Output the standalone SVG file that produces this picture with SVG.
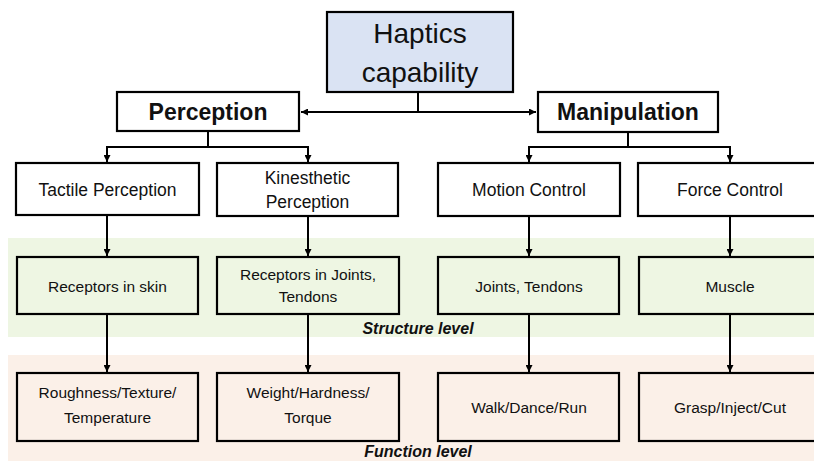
<svg xmlns="http://www.w3.org/2000/svg" width="814" height="461" viewBox="0 0 814 461">
<style>
text{font-family:"Liberation Sans",Arial,sans-serif;fill:#111;text-anchor:middle}
.box{fill:#fff;stroke:#000;stroke-width:2.2}
.g{fill:#EEF6E3;stroke:#000;stroke-width:2.2}
.p{fill:#FBF0E8;stroke:#000;stroke-width:2.2}
.t1{font-size:17.5px}
.t2{font-size:15.5px}
.hd{font-size:23px;font-weight:bold}
.lv{font-size:16px;font-weight:bold;font-style:italic}
.c{fill:none;stroke:#000;stroke-width:2}
</style>
<defs>
<marker id="ar" viewBox="0 0 8 8" refX="8" refY="4" markerWidth="7" markerHeight="7" markerUnits="userSpaceOnUse" orient="auto">
<path d="M0,0 L8,4 L0,8 z" fill="#000"/>
</marker>
</defs>
<g id="bands">
<rect x="8" y="238" width="806" height="99" fill="#EEF6E3"/>
<rect x="8" y="355" width="806" height="106" fill="#FBF0E8"/>
<text class="lv" x="418" y="334">Structure level</text>
<text class="lv" x="418" y="457">Function level</text>
</g>
<g id="connectors">
<path class="c" d="M418 92 V112 H301" marker-end="url(#ar)"/>
<path class="c" d="M418 112 H536" marker-end="url(#ar)"/>
<path class="c" d="M208 131 V147 H107 V162" marker-end="url(#ar)"/>
<path class="c" d="M208 147 H308 V162" marker-end="url(#ar)"/>
<path class="c" d="M628 132 V147 H529 V162" marker-end="url(#ar)"/>
<path class="c" d="M628 147 H730 V162" marker-end="url(#ar)"/>
<path class="c" d="M107 215 V256" marker-end="url(#ar)"/>
<path class="c" d="M308 216 V256" marker-end="url(#ar)"/>
<path class="c" d="M529 216 V256" marker-end="url(#ar)"/>
<path class="c" d="M730 216 V256" marker-end="url(#ar)"/>
<path class="c" d="M107 314 V372" marker-end="url(#ar)"/>
<path class="c" d="M308 314 V372" marker-end="url(#ar)"/>
<path class="c" d="M529 314 V372" marker-end="url(#ar)"/>
<path class="c" d="M730 314 V372" marker-end="url(#ar)"/>
</g>
<g id="haptics">
<rect x="327" y="12" width="186" height="80" fill="#DAE3F3" stroke="#000" stroke-width="2.2"/>
<text x="420" y="43" font-size="28">Haptics</text>
<text x="420" y="82" font-size="28">capability</text>
</g>
<g id="perception">
<rect class="box" x="117" y="92" width="182" height="39"/>
<text class="hd" x="208" y="120">Perception</text>
</g>
<g id="manipulation">
<rect class="box" x="538" y="92" width="180" height="40"/>
<text class="hd" x="628" y="120">Manipulation</text>
</g>
<g id="tactile">
<rect class="box" x="16" y="163" width="183" height="52"/>
<text class="t1" x="107.5" y="196">Tactile Perception</text>
</g>
<g id="kinesthetic">
<rect class="box" x="217" y="163" width="181" height="53"/>
<text class="t1" x="307.5" y="184">Kinesthetic</text>
<text class="t1" x="307.5" y="208">Perception</text>
</g>
<g id="motion">
<rect class="box" x="438" y="163" width="182" height="53"/>
<text class="t1" x="529" y="196">Motion Control</text>
</g>
<g id="force">
<rect class="box" x="638" y="163" width="183" height="53"/>
<text class="t1" x="730" y="196">Force Control</text>
</g>
<g id="skin">
<rect class="g" x="17" y="257" width="181" height="57"/>
<text class="t2" x="107.5" y="292">Receptors in skin</text>
</g>
<g id="joints-receptors">
<rect class="g" x="217" y="257" width="182" height="57"/>
<text class="t2" x="308" y="280">Receptors in Joints,</text>
<text class="t2" x="308" y="302">Tendons</text>
</g>
<g id="joints">
<rect class="g" x="438" y="257" width="181" height="57"/>
<text class="t2" x="529" y="292">Joints, Tendons</text>
</g>
<g id="muscle">
<rect class="g" x="639" y="257" width="182" height="57"/>
<text class="t2" x="730" y="292">Muscle</text>
</g>
<g id="roughness">
<rect class="p" x="17" y="373" width="181" height="68"/>
<text class="t2" x="107.5" y="398">Roughness/Texture/</text>
<text class="t2" x="107.5" y="423">Temperature</text>
</g>
<g id="weight">
<rect class="p" x="217" y="373" width="182" height="68"/>
<text class="t2" x="308" y="398">Weight/Hardness/</text>
<text class="t2" x="308" y="423">Torque</text>
</g>
<g id="walk">
<rect class="p" x="438" y="373" width="181" height="68"/>
<text class="t2" x="529" y="413">Walk/Dance/Run</text>
</g>
<g id="grasp">
<rect class="p" x="639" y="373" width="182" height="68"/>
<text class="t2" x="730" y="413">Grasp/Inject/Cut</text>
</g>
</svg>
